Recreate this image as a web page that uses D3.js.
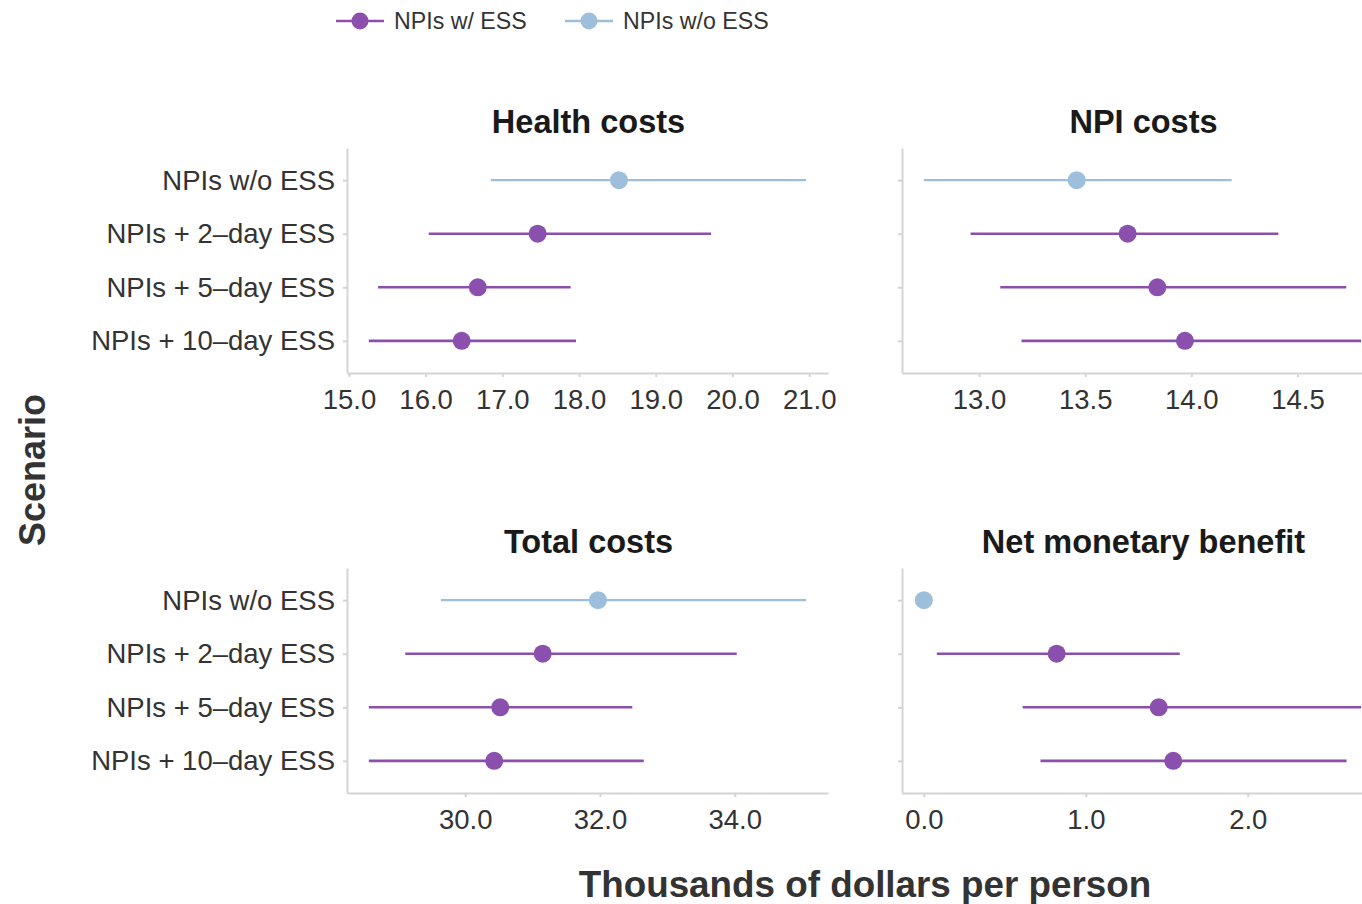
<!DOCTYPE html>
<html>
<head>
<meta charset="utf-8">
<script src="https://cdn.jsdelivr.net/npm/d3@7"></script>
<style>
  html, body { margin: 0; padding: 0; background: #fff; overflow: hidden; }
  svg { display: block; font-family: "Liberation Sans", Arial, Helvetica, sans-serif; }
</style>
</head>
<body>
<svg id="chart" width="1362" height="904"></svg>
<script>
// Scenarios (top to bottom) and series membership
const scenarios = ["NPIs w/o ESS", "NPIs + 2\u2013day ESS", "NPIs + 5\u2013day ESS", "NPIs + 10\u2013day ESS"];
const groups = ["NPIs w/o ESS", "NPIs w/ ESS", "NPIs w/ ESS", "NPIs w/ ESS"];

// Thousands of dollars per person: mean with uncertainty interval
const healthMean = [18.52, 17.46, 16.68, 16.47];
const healthLow  = [16.85, 16.04, 15.38, 15.26];
const healthHigh = [20.96, 19.72, 17.89, 17.96];

const npiMean = [13.46, 13.70, 13.84, 13.97];
const npiLow  = [12.74, 12.96, 13.10, 13.20];
const npiHigh = [14.19, 14.41, 14.73, 14.80];

const totalMean = [31.97, 31.15, 30.52, 30.43];
const totalLow  = [29.64, 29.11, 28.57, 28.57];
const totalHigh = [35.06, 34.03, 32.48, 32.65];

const nmbMean = [0.00, 0.82, 1.45, 1.54];
const nmbLow  = [0.00, 0.08, 0.61, 0.72];
const nmbHigh = [0.00, 1.58, 2.70, 2.61];

// Axis tick values
const healthTicks = [15, 16, 17, 18, 19, 20, 21];
const npiTicks = [13.0, 13.5, 14.0, 14.5];
const totalTicks = [30, 32, 34];
const nmbTicks = [0, 1, 2];

const legendLabels = ["NPIs w/ ESS", "NPIs w/o ESS"];
const colors = { "NPIs w/ ESS": "#8b50ae", "NPIs w/o ESS": "#9ebfdc" };

const svg = d3.select("#chart");
const axisColor = "#d4d4d4";
const textColor = "#333333";
const tickFont = 27.5;

const panelW = 481, panelH = 225;
const panels = [
  { title: "Health costs", mean: healthMean, low: healthLow, high: healthHigh, ticks: healthTicks, x: 347, y: 148 },
  { title: "NPI costs", mean: npiMean, low: npiLow, high: npiHigh, ticks: npiTicks, x: 902, y: 148 },
  { title: "Total costs", mean: totalMean, low: totalLow, high: totalHigh, ticks: totalTicks, x: 347, y: 568 },
  { title: "Net monetary benefit", mean: nmbMean, low: nmbLow, high: nmbHigh, ticks: nmbTicks, x: 902, y: 568 }
];

panels.forEach((p, pi) => {
  const all = p.mean.concat(p.low, p.high);
  const lo = d3.min(all), hi = d3.max(all), pad = (hi - lo) * 0.05;
  const x = d3.scaleLinear().domain([lo - pad, hi + pad]).range([0, panelW]);
  const y = d3.scalePoint().domain(scenarios).range([0, panelH]).padding(0.6);

  const g = svg.append("g").attr("transform", `translate(${p.x},${p.y})`);

  // title
  g.append("text")
    .attr("x", panelW / 2 + 1).attr("y", -15)
    .attr("text-anchor", "middle")
    .attr("font-size", 32.5).attr("font-weight", "bold").attr("fill", "#1a1a1a")
    .text(p.title);

  // x axis
  const xa = g.append("g").attr("transform", `translate(0,${panelH})`)
    .call(d3.axisBottom(x).tickValues(p.ticks).tickFormat(d3.format(".1f")).tickSizeInner(4).tickSizeOuter(0));
  xa.select(".domain").attr("stroke", axisColor).attr("stroke-width", 2);
  xa.selectAll(".tick line").attr("stroke", axisColor).attr("stroke-width", 2);
  xa.selectAll(".tick text").attr("font-size", tickFont).attr("fill", textColor).attr("dy", 0).attr("y", 36)
    .attr("font-family", "Liberation Sans, Arial, sans-serif");

  // y axis
  const ya = g.append("g")
    .call(d3.axisLeft(y).tickSizeInner(4).tickSizeOuter(0));
  ya.select(".domain").attr("stroke", axisColor).attr("stroke-width", 2);
  ya.selectAll(".tick line").attr("stroke", axisColor).attr("stroke-width", 2);
  ya.selectAll(".tick text")
    .attr("font-size", tickFont).attr("fill", textColor).attr("x", -12).attr("dy", "0.33em")
    .attr("font-family", "Liberation Sans, Arial, sans-serif")
    .style("display", pi % 2 === 0 ? null : "none");

  // interval lines
  g.selectAll("line.ci").data(scenarios).enter().append("line")
    .attr("class", "ci")
    .attr("x1", (d, i) => x(p.low[i])).attr("x2", (d, i) => x(p.high[i]))
    .attr("y1", d => y(d)).attr("y2", d => y(d))
    .attr("stroke", (d, i) => colors[groups[i]])
    .attr("stroke-width", (d, i) => groups[i] === "NPIs w/ ESS" ? 2.6 : 2.4);

  // means
  g.selectAll("circle.pt").data(scenarios).enter().append("circle")
    .attr("class", "pt")
    .attr("cx", (d, i) => x(p.mean[i])).attr("cy", d => y(d))
    .attr("r", 9)
    .attr("fill", (d, i) => colors[groups[i]]);
});

// axis titles
svg.append("text")
  .attr("x", 865).attr("y", 897)
  .attr("text-anchor", "middle")
  .attr("font-size", 36.8).attr("font-weight", "bold").attr("fill", textColor)
  .text("Thousands of dollars per person");

svg.append("text")
  .attr("transform", "translate(45,470) rotate(-90)")
  .attr("text-anchor", "middle")
  .attr("font-size", 36).attr("font-weight", "bold").attr("fill", textColor)
  .text("Scenario");

// legend
const legendX = [336, 565];
legendLabels.forEach((lab, i) => {
  const lg = svg.append("g").attr("transform", `translate(${legendX[i]},21)`);
  lg.append("line").attr("x1", 0).attr("x2", 48).attr("y1", 0).attr("y2", 0)
    .attr("stroke", colors[lab]).attr("stroke-width", 2.4);
  lg.append("circle").attr("cx", 24).attr("cy", 0).attr("r", 8.5).attr("fill", colors[lab]);
  lg.append("text").attr("x", 58).attr("y", 0).attr("dy", "0.35em")
    .attr("font-size", 23.2).attr("fill", textColor).text(lab);
});
</script>
</body>
</html>
